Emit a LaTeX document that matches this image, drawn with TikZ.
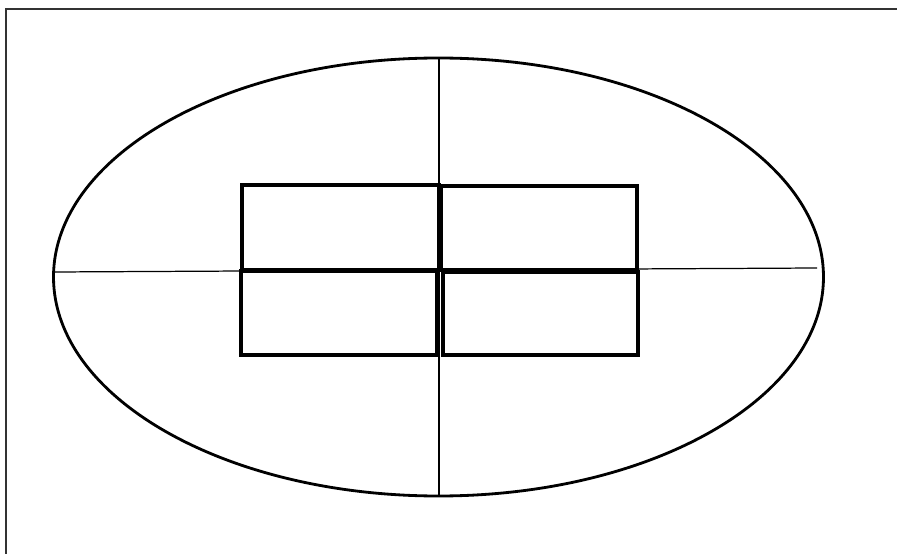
\documentclass[tikz,border=0pt]{standalone}
\begin{document}
\begin{tikzpicture}[x=0.02cm, y=-0.02cm,
    cell/.style={line width=2.1pt},
    axis/.style={line width=0.7pt}]
        \useasboundingbox (0,0) rectangle (897,554);

        % Frame (top and left edges)
        \draw[line width=1.2pt, black!80] (897,9) -- (6,9) -- (6,554);

        % Ellipse
        \draw[line width=1.6pt] (438.5,277) ellipse [x radius=385, y radius=219];

        % Axes through the centre
        \coordinate (top) at (439,59);
        \coordinate (bottom) at (439,496);
        \coordinate (left) at (54,272);
        \coordinate (right) at (817,268);
        \draw[axis] (top) -- (bottom);
        \draw[axis] (left) -- (right);

        % Four cells
        \draw[cell] (242,185) rectangle (439,270);
        \draw[cell] (441,186) rectangle (637,270);
        \draw[cell] (241,271) rectangle (437,355);
        \draw[cell] (443,272) rectangle (638,355);
    \end{tikzpicture}
\end{document}
